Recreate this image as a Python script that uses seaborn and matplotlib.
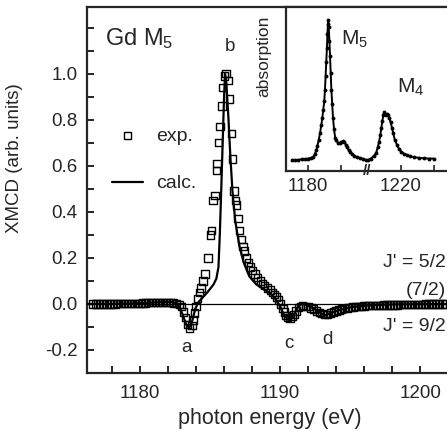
import numpy as np
import pandas as pd
import matplotlib
matplotlib.use("Agg")
import matplotlib.pyplot as plt
import matplotlib.transforms as mtransforms
from matplotlib.ticker import MultipleLocator
import seaborn as sns

# ---- data ----
# experimental XMCD (open squares)
exp_energy = [1176.6, 1176.8, 1177.0, 1177.2, 1177.4, 1177.6, 1177.8, 1178.0, 1178.2, 1178.4,
              1178.6, 1178.8, 1179.0, 1179.2, 1179.4, 1179.6, 1179.8, 1180.0, 1180.2, 1180.4,
              1180.6, 1180.8, 1181.0, 1181.2, 1181.4, 1181.6, 1181.8, 1182.0, 1182.2, 1182.4,
              1182.6, 1182.8, 1182.95, 1183.1, 1183.25, 1183.4, 1183.55, 1183.7, 1183.8, 1183.9,
              1184.0, 1184.1, 1184.25, 1184.35, 1184.5, 1184.65, 1184.85, 1185.05, 1185.1, 1185.2,
              1185.35, 1185.45, 1185.5, 1185.6, 1185.7, 1185.85, 1185.9, 1186.05, 1186.15, 1186.3,
              1186.4, 1186.55, 1186.6, 1186.7, 1186.8, 1186.9, 1187.0, 1187.1, 1187.25, 1187.35,
              1187.45, 1187.6, 1187.75, 1187.9, 1188.05, 1188.2, 1188.4, 1188.6, 1188.75, 1188.9,
              1189.1, 1189.3, 1189.45, 1189.6, 1189.75, 1189.9, 1190.05, 1190.2, 1190.3, 1190.4,
              1190.55, 1190.7, 1190.85, 1191.0, 1191.15, 1191.3, 1191.45, 1191.6, 1191.8, 1192.0,
              1192.2, 1192.4, 1192.6, 1192.8, 1193.0, 1193.2, 1193.4, 1193.6, 1193.8, 1194.0,
              1194.2, 1194.4, 1194.6, 1194.8, 1195.0, 1195.2, 1195.4, 1195.6, 1195.8, 1196.0,
              1196.2, 1196.4, 1196.6, 1196.8, 1197.0, 1197.2, 1197.4, 1197.6, 1197.8, 1198.0,
              1198.2, 1198.4, 1198.6, 1198.8, 1199.0, 1199.2, 1199.4, 1199.6, 1199.8, 1200.0,
              1200.2, 1200.4, 1200.6, 1200.8, 1201.0, 1201.2, 1201.4, 1201.6, 1201.8]
exp_xmcd = [0.0, 0.0, 0.0, 0.0, 0.0, 0.0, 0.0, 0.0, 0.0, 0.001,
            0.001, 0.001, 0.002, 0.002, 0.002, 0.003, 0.003, 0.003, 0.004, 0.004,
            0.005, 0.005, 0.005, 0.006, 0.006, 0.006, 0.006, 0.006, 0.005, 0.004,
            0.002, -0.002, -0.01, -0.035, -0.06, -0.09, -0.105, -0.095, -0.07, -0.04,
            -0.01, 0.025, 0.05, 0.07, 0.10, 0.13, 0.20, 0.30, 0.32, 0.45,
            0.47, 0.58, 0.61, 0.70, 0.77, 0.86, 0.94, 0.99, 1.0, 0.97,
            0.89, 0.74, 0.63, 0.49, 0.45, 0.43, 0.37, 0.32, 0.28, 0.25,
            0.23, 0.20, 0.18, 0.16, 0.145, 0.13, 0.115, 0.10, 0.09, 0.08,
            0.07, 0.06, 0.05, 0.04, 0.03, 0.017, 0.0, -0.02, -0.035, -0.05,
            -0.06, -0.062, -0.055, -0.045, -0.03, -0.015, -0.01, -0.008, -0.01, -0.012,
            -0.017, -0.022, -0.03, -0.037, -0.042, -0.045, -0.045, -0.04, -0.035, -0.03,
            -0.026, -0.022, -0.019, -0.017, -0.015, -0.013, -0.012, -0.011, -0.01, -0.009,
            -0.008, -0.008, -0.007, -0.007, -0.006, -0.006, -0.005, -0.005, -0.005, -0.004,
            -0.004, -0.004, -0.003, -0.003, -0.003, -0.003, -0.002, -0.002, -0.002, -0.002,
            -0.002, -0.001, -0.001, -0.001, -0.001, 0.0, 0.0, 0.0, 0.0]

# calculated XMCD (solid line)
calc_energy = [1176.2, 1178.0, 1180.0, 1181.5, 1182.3, 1182.7, 1183.0, 1183.3, 1183.5, 1183.7,
               1183.95, 1184.2, 1184.5, 1184.8, 1185.0, 1185.25, 1185.45, 1185.6, 1185.7, 1185.8,
               1185.9, 1186.0, 1186.07, 1186.15, 1186.3, 1186.45, 1186.6, 1186.8, 1187.1, 1187.4,
               1187.8, 1188.3, 1188.8, 1189.3, 1189.7, 1190.0, 1190.3, 1190.6, 1190.9, 1191.2,
               1191.5, 1191.9, 1192.4, 1192.9, 1193.2, 1193.6, 1194.3, 1195.2, 1196.5, 1198.0,
               1202.3]
calc_xmcd = [0.0, 0.0, 0.003, 0.008, 0.008, 0.0, -0.04, -0.09, -0.105, -0.08,
             -0.02, 0.01, 0.03, 0.05, 0.065, 0.085, 0.11, 0.16, 0.31, 0.50,
             0.70, 0.90, 1.0, 0.97, 0.82, 0.64, 0.49, 0.36, 0.25, 0.18,
             0.12, 0.085, 0.065, 0.045, 0.02, -0.01, -0.05, -0.07, -0.06, -0.02,
             0.0, -0.005, -0.02, -0.04, -0.05, -0.04, -0.025, -0.013, -0.006, -0.002,
             0.0]

# inset: absorption spectrum (M5 and M4 edges, axis broken between them)
abs_energy = [1175.2, 1176.0, 1177.0, 1178.0, 1179.0, 1180.0, 1181.0, 1181.5, 1182.0, 1182.5,
              1182.8, 1183.2, 1183.6, 1184.0, 1184.3, 1184.6, 1184.9, 1185.1, 1185.3, 1185.5,
              1185.7, 1185.85, 1186.0, 1186.1, 1186.25, 1186.45, 1186.65, 1186.85, 1187.05, 1187.3,
              1187.55, 1187.85, 1188.2, 1188.6, 1189.1, 1189.6, 1190.1, 1190.6, 1191.0, 1191.4,
              1191.8, 1192.3, 1192.8, 1193.3, 1194.0, 1194.8, 1195.6, 1196.5, 1197.5,
              1210.2, 1211.0, 1212.0, 1212.6, 1213.1, 1213.5, 1213.9, 1214.2, 1214.5, 1214.8,
              1215.1, 1215.4, 1215.7, 1216.0, 1216.3, 1216.6, 1217.0, 1217.4, 1217.8, 1218.3,
              1218.9, 1219.5, 1220.2, 1221.0, 1222.0, 1223.0, 1224.0, 1225.5, 1227.0, 1228.5,
              1230.0]
abs_signal = [0.0, 0.0, 0.0, 0.005, 0.005, 0.01, 0.015, 0.02, 0.04, 0.07,
              0.10, 0.14, 0.19, 0.25, 0.30, 0.36, 0.42, 0.50, 0.60, 0.70,
              0.80, 0.90, 0.97, 1.0, 0.95, 0.85, 0.74, 0.62, 0.50, 0.40,
              0.30, 0.22, 0.16, 0.14, 0.12, 0.12, 0.125, 0.135, 0.13, 0.11,
              0.09, 0.07, 0.055, 0.045, 0.03, 0.02, 0.015, 0.008, 0.0,
              0.0, 0.01, 0.03, 0.05, 0.09, 0.13, 0.18, 0.23, 0.28, 0.32,
              0.34, 0.33, 0.32, 0.33, 0.32, 0.30, 0.27, 0.23, 0.19, 0.14,
              0.11, 0.08, 0.06, 0.045, 0.035, 0.025, 0.02, 0.015, 0.012, 0.01,
              0.01]
BREAK_SHIFT = 12.0  # eV removed from the inset axis between the two edges

inset_ticks = [1180, 1190, 1220, 1230]
inset_ticklabels = ["1180", "", "1220", ""]

# ---- style ----
sns.set_style("ticks")
plt.rcParams.update({
    "font.family": ["Liberation Sans", "DejaVu Sans"],
    "mathtext.fontset": "custom",
    "mathtext.rm": "Liberation Sans",
    "mathtext.it": "Liberation Sans:italic",
    "font.size": 13.5,
    "axes.linewidth": 1.6,
    "xtick.direction": "in",
    "ytick.direction": "in",
})

exp_df = pd.DataFrame({"energy": exp_energy, "xmcd": exp_xmcd})
calc_df = pd.DataFrame({"energy": calc_energy, "xmcd": calc_xmcd})
abs_df = pd.DataFrame({"energy": abs_energy, "signal": abs_signal})
abs_df["axis_pos"] = np.where(abs_df["energy"] > 1200, abs_df["energy"] - BREAK_SHIFT, abs_df["energy"])

W, H = 447, 430
fig = plt.figure(figsize=(W / 100, H / 100), dpi=100)

# ---- main panel ----
ax = fig.add_axes([87 / W, 1 - 373 / H, (452 - 87) / W, (373 - 7) / H])
ax.axhline(0, color="black", lw=0.9, zorder=1)
sns.lineplot(data=calc_df, x="energy", y="xmcd", ax=ax, color="black", lw=1.6,
             label="calc.", zorder=3)
sns.scatterplot(data=exp_df, x="energy", y="xmcd", ax=ax, marker="s", s=28,
                facecolors="none", edgecolor="black", linewidth=1.0, label="exp.", zorder=2)

ax.set_xlim(1176.21, 1202.28)
ax.set_ylim(-0.3, 1.29)
ax.xaxis.set_major_locator(MultipleLocator(10))
ax.xaxis.set_minor_locator(MultipleLocator(2))
ax.yaxis.set_major_locator(MultipleLocator(0.2))
ax.yaxis.set_minor_locator(MultipleLocator(0.1))
ax.tick_params(which="both", length=5, width=1.4, top=False, right=False)
ax.tick_params(axis="x", pad=9)
ax.tick_params(axis="y", pad=7)
ax.set_yticks([-0.2, 0.0, 0.2, 0.4, 0.6, 0.8, 1.0])
ax.set_yticklabels(["-0.2", "0.0", "0.2", "0.4", "0.6", "0.8", "1.0"])
ax.set_xlabel("photon energy (eV)", fontsize=15.5, labelpad=4)
ax.set_ylabel("XMCD (arb. units)", fontsize=13.5)
ax.yaxis.set_label_coords(-0.175, 0.587)
for side in ["top", "bottom", "left", "right"]:
    ax.spines[side].set_visible(True)

handles, labels = ax.get_legend_handles_labels()
order = [labels.index("exp."), labels.index("calc.")]
ax.legend([handles[i] for i in order], [labels[i] for i in order],
          loc="upper left", bbox_to_anchor=(0.02, 0.72), frameon=False, fontsize=14,
          handlelength=1.6, handletextpad=0.7, labelspacing=1.55)

ax.text(1177.5, 1.126, r"Gd M$_\mathrm{5}$", fontsize=17, ha="left", va="baseline")
ax.text(1186.4, 1.12, "b", fontsize=13.5, ha="center", va="center")
ax.text(1183.3, -0.19, "a", fontsize=13.5, ha="center", va="center")
ax.text(1190.6, -0.17, "c", fontsize=13.5, ha="center", va="center")
ax.text(1193.4, -0.155, "d", fontsize=13.5, ha="center", va="center")
ax.text(1201.85, 0.178, "J' = 5/2", fontsize=14, ha="right", va="center")
ax.text(1201.85, 0.06, "(7/2)", fontsize=14, ha="right", va="center")
ax.text(1201.85, -0.10, "J' = 9/2", fontsize=14, ha="right", va="center")

# ---- inset ----
ins = fig.add_axes([286 / W, 1 - 171 / H, (452 - 286) / W, (171 - 7) / H])
sns.lineplot(data=abs_df, x="axis_pos", y="signal", ax=ins, color="black", lw=1.4,
             marker="o", markersize=2.8, markeredgewidth=0, sort=False)
ins.set_xlim(1173.3, 1223.6)
ins.set_ylim(-0.079, 1.093)
ins.set_xticks([t if t < 1200 else t - BREAK_SHIFT for t in inset_ticks])
ins.set_xticklabels(inset_ticklabels)
ins.set_yticks([])
ins.tick_params(axis="x", length=4, width=1.2, pad=5, labelsize=13.5)
ins.set_xlabel("")
ins.set_ylabel("absorption", fontsize=12.5)
ins.yaxis.set_label_coords(-0.09, 0.70)
for side in ["top", "bottom", "left", "right"]:
    ins.spines[side].set_visible(True)
ins.spines["top"].set_linewidth(1.6)
trans = mtransforms.blended_transform_factory(ins.transData, ins.transAxes)
ins.text(1197.9, 0.0, "//", transform=trans, fontsize=11, ha="center", va="center",
         fontweight="bold")
ins.text(1190.0, 0.86, r"M$_\mathrm{5}$", fontsize=15, ha="left", va="center")
ins.text(1207.0, 0.52, r"M$_\mathrm{4}$", fontsize=15, ha="left", va="center")

fig.savefig("out.png", dpi=100)
